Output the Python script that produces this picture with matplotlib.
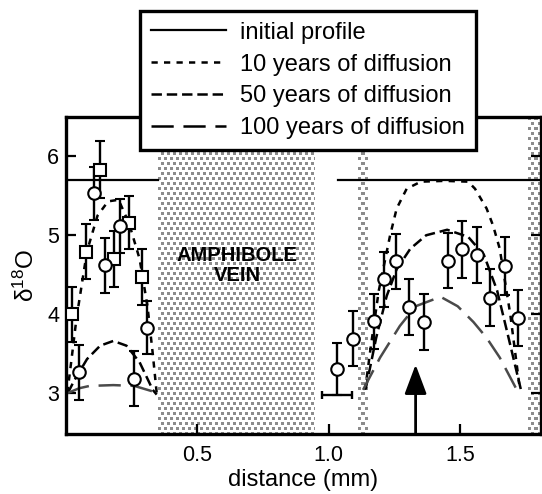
import numpy as np
import matplotlib.pyplot as plt
from matplotlib.lines import Line2D

plt.rcParams['font.family'] = ['Liberation Sans', 'DejaVu Sans']
plt.rcParams['mathtext.default'] = 'regular'
plt.rcParams['lines.scale_dashes'] = False

# measured d18O, left of the vein (squares and circles)
sq_x = [0.023, 0.077, 0.13, 0.181, 0.238, 0.29]
sq_y = [4.00, 4.79, 5.83, 4.70, 5.16, 4.47]
sq_err = [0.35, 0.35, 0.36, 0.35, 0.34, 0.35]

circ_l_x = [0.048, 0.105, 0.148, 0.206, 0.26, 0.307]
circ_l_y = [3.26, 5.53, 4.62, 5.12, 3.18, 3.83]
circ_l_err = [0.35, 0.34, 0.35, 0.34, 0.35, 0.34]

# measured d18O, right of the vein
circ_r_x = [1.03, 1.09, 1.173, 1.21, 1.256, 1.306, 1.362, 1.455, 1.506, 1.565, 1.613, 1.67, 1.72]
circ_r_y = [3.30, 3.69, 3.91, 4.44, 4.67, 4.09, 3.90, 4.68, 4.82, 4.75, 4.21, 4.61, 3.95]
circ_r_err = [0.33, 0.35, 0.35, 0.35, 0.35, 0.35, 0.35, 0.35, 0.36, 0.35, 0.36, 0.37, 0.35]

# horizontal bracket under the first right-hand point
bracket_x = (0.973, 1.087)
bracket_y = 2.98

# initial profile
init_y = 5.70
init_l_x = [0.0, 0.351]
init_r_x = [1.034, 1.81]

# model curves, left side
d10_l_x = [0.005, 0.02, 0.04, 0.08, 0.12, 0.16, 0.20, 0.24, 0.28, 0.31, 0.33, 0.345]
d10_l_y = [3.00, 3.40, 3.95, 4.80, 5.25, 5.43, 5.45, 5.15, 4.70, 4.10, 3.50, 3.00]
d50_l_x = [0.007, 0.03, 0.08, 0.13, 0.18, 0.23, 0.28, 0.33, 0.345]
d50_l_y = [3.00, 3.15, 3.43, 3.60, 3.66, 3.60, 3.39, 3.04, 2.98]
d100_l_x = [0.007, 0.05, 0.09, 0.18, 0.26, 0.33]
d100_l_y = [3.00, 3.06, 3.09, 3.10, 3.09, 3.02]

# model curves, right side
d10_r_x = [1.138, 1.16, 1.19, 1.233, 1.258, 1.296, 1.35, 1.44, 1.53, 1.556, 1.60, 1.625, 1.65, 1.69, 1.727]
d10_r_y = [3.04, 3.60, 4.30, 5.00, 5.34, 5.59, 5.68, 5.69, 5.68, 5.59, 5.34, 5.12, 4.83, 4.00, 3.04]
d50_r_x = [1.14, 1.18, 1.22, 1.258, 1.31, 1.37, 1.45, 1.53, 1.59, 1.64, 1.68, 1.73]
d50_r_y = [3.05, 3.70, 4.23, 4.57, 4.83, 5.00, 5.07, 4.98, 4.75, 4.30, 3.75, 3.05]
d100_r_x = [1.13, 1.195, 1.27, 1.33, 1.425, 1.49, 1.55, 1.60, 1.65, 1.715]
d100_r_y = [3.04, 3.45, 3.85, 4.10, 4.22, 4.10, 3.90, 3.70, 3.45, 3.04]

# patterned bands (vein and thin stripes)
bands = [(0.351, 0.948), (1.11, 1.145), (1.757, 1.81)]

arrow_x = 1.33
arrow_tip = 3.36

xlim = (0.0, 1.807)
ylim = (2.48, 6.50)

st10 = (0, (4.5, 4.5))
st50 = (0, (7.5, 3.5))
st100 = (0, (16, 7))
gray100 = '#4a4a4a'

fig = plt.figure(figsize=(5.42, 4.94), dpi=100)
ax = fig.add_axes([66 / 542, 1 - 434 / 494, 475 / 542, 317 / 494])
ax.set_xlim(*xlim)
ax.set_ylim(*ylim)


def texture(w, h):
    # staggered grey squares, like the printed dot screen
    yy, xx = np.mgrid[0:h, 0:w]
    row = yy // 5
    on = (((xx + 3 * (row % 2)) % 6) < 3) & ((yy % 5) < 3)
    return np.where(on, 0.55, 1.0)


for x0, x1 in bands:
    p0 = ax.transData.transform((x0, ylim[0]))
    p1 = ax.transData.transform((x1, ylim[1]))
    w = max(int(round(p1[0] - p0[0])), 1)
    h = int(round(p1[1] - p0[1]))
    ax.imshow(texture(w, h), extent=(x0, x1, ylim[0], ylim[1]), cmap='gray',
              vmin=0, vmax=1, interpolation='nearest', aspect='auto', zorder=0)

ax.set_xlim(*xlim)
ax.set_ylim(*ylim)

# initial profile
ax.plot(init_l_x, [init_y] * 2, color='k', lw=1.6, zorder=2)
ax.plot(init_r_x, [init_y] * 2, color='k', lw=1.6, zorder=2)

# diffusion curves
for xs, ys in [(d10_l_x, d10_l_y), (d10_r_x, d10_r_y)]:
    ax.plot(xs, ys, color='k', lw=1.8, ls=st10, zorder=2)
for xs, ys in [(d50_l_x, d50_l_y), (d50_r_x, d50_r_y)]:
    ax.plot(xs, ys, color='k', lw=1.8, ls=st50, zorder=2)
for xs, ys in [(d100_l_x, d100_l_y), (d100_r_x, d100_r_y)]:
    ax.plot(xs, ys, color=gray100, lw=1.8, ls=st100, zorder=2)

eb = dict(ecolor='k', elinewidth=1.7, capsize=3.5, capthick=1.7,
          mec='k', mfc='white', mew=1.5, zorder=4)
ax.errorbar(sq_x, sq_y, yerr=sq_err, fmt='s', ms=9, **eb)
ax.errorbar(circ_l_x, circ_l_y, yerr=circ_l_err, fmt='o', ms=9, **eb)
ax.errorbar(circ_r_x, circ_r_y, yerr=circ_r_err, fmt='o', ms=9, **eb)
ax.errorbar([np.mean(bracket_x)], [bracket_y], xerr=[(bracket_x[1] - bracket_x[0]) / 2],
            fmt='none', ecolor='k', elinewidth=1.7, capsize=3, capthick=1.7, zorder=4)

ax.annotate('', xy=(arrow_x, arrow_tip), xytext=(arrow_x, ylim[0]),
            arrowprops=dict(arrowstyle='-|>,head_length=1.2,head_width=0.45',
                            color='k', lw=2, mutation_scale=15, shrinkA=0, shrinkB=0),
            zorder=5)

ax.text(0.651, 4.62, 'AMPHIBOLE\nVEIN', ha='center', va='center', fontsize=14.5,
        fontweight='bold', linespacing=1.08, zorder=5)

ax.set_xticks([0.5, 1.0, 1.5])
ax.set_xticklabels(['0.5', '1.0', '1.5'])
ax.set_yticks([3, 4, 5, 6])
ax.tick_params(direction='in', length=7, width=1.6, labelsize=15.5, right=True)
ax.tick_params(axis='x', pad=8)
ax.tick_params(axis='y', pad=5)
for s in ax.spines.values():
    s.set_linewidth(2.4)

ax.set_xlabel('distance (mm)', fontsize=17, labelpad=2)
ax.set_ylabel('δ$^{18}$O', fontsize=17.5, labelpad=6)

handles = [
    Line2D([], [], color='k', lw=1.6),
    Line2D([], [], color='k', lw=1.8, ls=st10),
    Line2D([], [], color='k', lw=1.8, ls=st50),
    Line2D([], [], color='k', lw=1.8, ls=st100),
]
labels = ['initial profile', '10 years of diffusion', '50 years of diffusion',
          '100 years of diffusion']
leg = fig.legend(handles, labels, loc='upper left', bbox_to_anchor=(140 / 542, 1 - 11 / 494),
                 fontsize=17, frameon=True, fancybox=False, framealpha=1,
                 edgecolor='k', borderaxespad=0, borderpad=0.45, labelspacing=0.42,
                 handlelength=3.2, handletextpad=0.6)
leg.get_frame().set_linewidth(2.4)
leg.set_zorder(10)

fig.savefig('out.png', dpi=100)
